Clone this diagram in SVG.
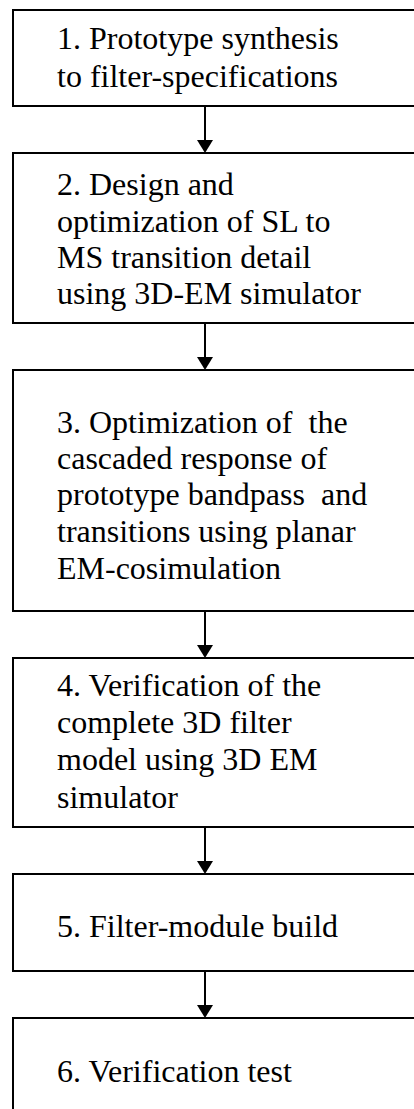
<svg xmlns="http://www.w3.org/2000/svg" width="414" height="1109" viewBox="0 0 414 1109">
<style>
.box{fill:#fff;stroke:#000;stroke-width:2}
.t{font-family:'Liberation Serif','DejaVu Serif',serif;font-size:32px;fill:#000;white-space:pre}
.c{stroke:#000;stroke-width:2;fill:none}
.ah{fill:#000}
</style>
<rect width="414" height="1109" fill="#fff"/>
<g id="connectors">
<line class="c" x1="205" y1="106" x2="205" y2="142"/><polygon class="ah" points="197,140 213,140 205,153"/>
<line class="c" x1="205" y1="323" x2="205" y2="359"/><polygon class="ah" points="197,357 213,357 205,370"/>
<line class="c" x1="205" y1="611" x2="205" y2="647"/><polygon class="ah" points="197,645 213,645 205,658"/>
<line class="c" x1="205" y1="827" x2="205" y2="863"/><polygon class="ah" points="197,861 213,861 205,874"/>
<line class="c" x1="205" y1="971" x2="205" y2="1007"/><polygon class="ah" points="197,1005 213,1005 205,1018"/>
</g>
<g id="node1"><rect class="box" x="13" y="10" width="420" height="96"/>
<text class="t" x="57" y="49">1. Prototype synthesis</text><text class="t" x="57" y="87">to filter-specifications</text></g>
<g id="node2"><rect class="box" x="13" y="153" width="420" height="170"/>
<text class="t" x="57" y="195">2. Design and</text><text class="t" x="57" y="232">optimization of SL to</text><text class="t" x="57" y="268">MS transition detail</text><text class="t" x="57" y="304">using 3D-EM simulator</text></g>
<g id="node3"><rect class="box" x="13" y="370" width="420" height="241"/>
<text class="t" x="57" y="433" xml:space="preserve">3. Optimization of  the</text><text class="t" x="57" y="469">cascaded response of</text><text class="t" x="57" y="505" xml:space="preserve">prototype bandpass  and</text><text class="t" x="57" y="542">transitions using planar</text><text class="t" x="57" y="579">EM-cosimulation</text></g>
<g id="node4"><rect class="box" x="13" y="658" width="420" height="169"/>
<text class="t" x="57" y="696">4. Verification of the</text><text class="t" x="57" y="733">complete 3D filter</text><text class="t" x="57" y="770">model using 3D EM</text><text class="t" x="57" y="808">simulator</text></g>
<g id="node5"><rect class="box" x="13" y="874" width="420" height="97"/>
<text class="t" x="57" y="937">5. Filter-module build</text></g>
<g id="node6"><rect class="box" x="13" y="1018" width="420" height="120"/>
<text class="t" x="57" y="1082">6. Verification test</text></g>
</svg>
